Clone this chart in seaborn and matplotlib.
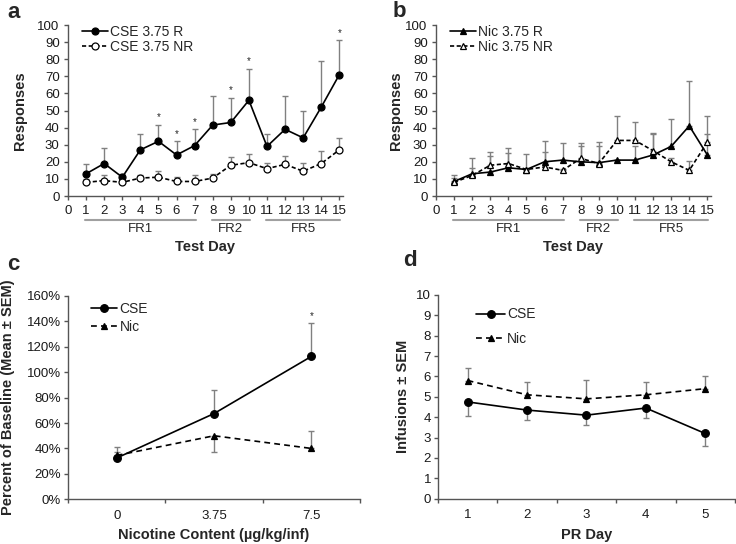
import matplotlib.pyplot as plt
import matplotlib.transforms as mtransforms
import seaborn as sns
import numpy as np

# panel a - CSE 3.75
days = list(range(1, 16))
cse_r = [13, 19, 11, 27, 32, 24, 29.5, 41.5, 43, 56, 29, 39, 34, 52, 71]
cse_r_top = [19, 28, 13, 36.5, 41.5, 32, 39, 58.5, 57.5, 74.5, 36, 58.5, 49.5, 79, 91]
cse_nr = [8, 9, 8, 10.5, 11, 8.5, 8.5, 10.5, 18, 19.5, 16, 18.5, 14.5, 19, 27]
cse_nr_top = [10, 12.5, 10, 12, 14.5, 11, 12, 13, 23, 24.5, 19.5, 23.5, 19.5, 26.5, 34]
cse_star_days = [5, 6, 7, 9, 10, 15]

# panel b - Nic 3.75
nic_r = [8.5, 13, 14, 16.5, 15.5, 20, 21, 20, 19.5, 21, 21, 24, 29, 41, 24]
nic_r_top = [12, 22, 25.5, 28, 24.5, 32, 31, 31, 29, 21, 29, 37, 45, 67.5, 36]
nic_nr = [8, 12, 18, 19, 15.5, 17, 15, 22, 19, 32.5, 32.5, 26.5, 20, 15, 31.5]
nic_nr_top = [10.5, 16.5, 23.5, 25, 16, 25.5, 16, 29, 31.5, 47, 43.5, 36, 22, 20.5, 47]

groups = ['FR1', 'FR2', 'FR5']
group_start = [1, 8, 11]
group_end = [7, 10, 15]

# panel c
doses = ['0', '3.75', '7.5']
c_cse = [32.5, 67.5, 112.5]
c_cse_low = [32.5, 67.5, 112.5]
c_cse_high = [41, 86, 138.5]
c_nic = [34.5, 50, 40]
c_nic_low = [34.5, 37.5, 40]
c_nic_high = [37.5, 50, 53.5]
c_star = [2]

# panel d
pr_days = ['1', '2', '3', '4', '5']
d_cse = [4.75, 4.35, 4.1, 4.45, 3.2]
d_cse_low = [4.08, 3.88, 3.62, 3.98, 2.6]
d_nic = [5.8, 5.1, 4.9, 5.1, 5.4]
d_nic_high = [6.4, 5.75, 5.85, 5.75, 6.0]

sns.set_style("ticks")
plt.rcParams['font.family'] = ['Liberation Sans', 'DejaVu Sans']
plt.rcParams['axes.linewidth'] = 1.0
plt.rcParams['axes.edgecolor'] = '#555555'
plt.rcParams['xtick.color'] = '#555555'
plt.rcParams['ytick.color'] = '#555555'
plt.rcParams['xtick.labelcolor'] = '#1a1a1a'
plt.rcParams['ytick.labelcolor'] = '#1a1a1a'

ERR = '#808080'
TICK_FS = 9.5
LEG_FS = 10
LAB_FS = 10.5

fig = plt.figure(figsize=(7.36, 5.44), dpi=100)
ax_a = fig.add_axes([0.0924, 0.6397, 0.3736, 0.3143])
ax_b = fig.add_axes([0.5924, 0.6397, 0.3736, 0.3143])
ax_c = fig.add_axes([0.0924, 0.0822, 0.397, 0.3737])
ax_d = fig.add_axes([0.595, 0.0833, 0.4035, 0.3745])


def up_err(mean, top):
    mean = np.array(mean)
    return [np.zeros(len(mean)), np.array(top) - mean]


def series(ax, x, y, label, marker, filled, ls, ms=5):
    fc = 'black' if filled else 'white'
    sns.lineplot(x=x, y=y, ax=ax, color='black', marker=marker, markersize=ms,
                 markerfacecolor=fc, markeredgecolor='black', markeredgewidth=0.9,
                 linestyle=ls, linewidth=1.2, label=label, zorder=3)


def labels(ax, ylab, xlab, yx, xy):
    ax.set_ylabel(ylab, fontsize=LAB_FS, fontweight='bold', va='center')
    ax.set_xlabel(xlab, fontsize=LAB_FS, fontweight='bold', va='center')
    ax.yaxis.set_label_coords(yx, 0.5)
    ax.xaxis.set_label_coords(0.5, xy)


def day_panel(ax, r, r_top, nr, nr_top, lab_r, lab_nr, marker, stars, yx):
    ax.errorbar(days, r, yerr=up_err(r, r_top), fmt='none', ecolor=ERR,
                elinewidth=1.0, capsize=2.5, capthick=1.0, zorder=1)
    ax.errorbar(days, nr, yerr=up_err(nr, nr_top), fmt='none', ecolor=ERR,
                elinewidth=1.0, capsize=2.5, capthick=1.0, zorder=1)
    series(ax, days, r, lab_r, marker, True, '-')
    series(ax, days, nr, lab_nr, marker, False, (0, (2.5, 1.5)))
    for d in stars:
        ax.text(d, r_top[d - 1] + 1.5, '*', ha='center', va='bottom', fontsize=7)
    ax.set_xlim(0, 15.2)
    ax.set_ylim(0, 100)
    ax.set_xticks(range(0, 16))
    ax.set_yticks(range(0, 101, 10))
    ax.tick_params(labelsize=TICK_FS, length=3, width=1)
    ax.tick_params(axis='y', pad=3)
    ax.tick_params(axis='x', pad=3.5)
    sns.despine(ax=ax)
    labels(ax, 'Responses', 'Test Day', yx, -0.30)
    trans = mtransforms.blended_transform_factory(ax.transData, ax.transAxes)
    for g, s, e in zip(groups, group_start, group_end):
        ax.plot([s - 0.05, e + 0.05], [-0.14, -0.14], color='#a0a0a0', lw=1.5,
                transform=trans, clip_on=False)
        ax.text((s + e) / 2, -0.195, g, transform=trans, ha='center', va='center',
                fontsize=TICK_FS)
    ax.legend(loc='upper left', bbox_to_anchor=(0.02, 1.05), frameon=False,
              fontsize=LEG_FS, handlelength=1.9, handletextpad=0.1,
              labelspacing=0.1, borderpad=0.1)


day_panel(ax_a, cse_r, cse_r_top, cse_nr, cse_nr_top,
          'CSE 3.75 R', 'CSE 3.75 NR', 'o', cse_star_days, -0.175)
day_panel(ax_b, nic_r, nic_r_top, nic_nr, nic_nr_top,
          'Nic 3.75 R', 'Nic 3.75 NR', '^', [], -0.145)

# panel c
xc = np.arange(len(doses)) + 0.5
ax = ax_c
ax.errorbar(xc, c_cse, yerr=[np.array(c_cse) - c_cse_low, np.array(c_cse_high) - c_cse],
            fmt='none', ecolor=ERR, elinewidth=1.0, capsize=2.5, capthick=1.0, zorder=1)
ax.errorbar(xc, c_nic, yerr=[np.array(c_nic) - c_nic_low, np.array(c_nic_high) - c_nic],
            fmt='none', ecolor=ERR, elinewidth=1.0, capsize=2.5, capthick=1.0, zorder=1)
series(ax, xc, c_cse, 'CSE', 'o', True, '-', ms=5.5)
series(ax, xc, c_nic, 'Nic', '^', True, (0, (3.5, 2.5)), ms=5)
for i in c_star:
    ax.text(xc[i], c_cse_high[i] + 2, '*', ha='center', va='bottom', fontsize=7)
ax.set_xlim(0, 3)
ax.set_ylim(0, 160)
ax.set_yticks(range(0, 161, 20))
ax.set_yticklabels([f'{v}%' for v in range(0, 161, 20)])
ax.set_xticks(range(0, 4))
ax.set_xticklabels([])
ax.set_xticks(xc, minor=True)
ax.set_xticklabels(doses, minor=True)
ax.tick_params(which='major', labelsize=TICK_FS, length=3, width=1, pad=2)
ax.tick_params(which='minor', axis='x', labelsize=TICK_FS, length=0, pad=7.5)
sns.despine(ax=ax)
labels(ax, 'Percent of Baseline (Mean ± SEM)', 'Nicotine Content (µg/kg/inf)',
       -0.205, -0.176)
ax.legend(loc='upper left', bbox_to_anchor=(0.05, 1.01), frameon=False,
          fontsize=LEG_FS, handlelength=1.9, handletextpad=0.15,
          labelspacing=0.25, borderpad=0.1)

# panel d
xd = np.arange(len(pr_days)) + 0.5
ax = ax_d
ax.errorbar(xd, d_cse, yerr=[np.array(d_cse) - d_cse_low, np.zeros(len(d_cse))],
            fmt='none', ecolor=ERR, elinewidth=1.0, capsize=2.5, capthick=1.0, zorder=1)
ax.errorbar(xd, d_nic, yerr=[np.zeros(len(d_nic)), np.array(d_nic_high) - d_nic],
            fmt='none', ecolor=ERR, elinewidth=1.0, capsize=2.5, capthick=1.0, zorder=1)
series(ax, xd, d_cse, 'CSE', 'o', True, '-', ms=5.5)
series(ax, xd, d_nic, 'Nic', '^', True, (0, (3.5, 2.5)), ms=5)
ax.set_xlim(0, 5)
ax.set_ylim(0, 10)
ax.set_yticks(range(0, 11))
ax.set_xticks(range(0, 6))
ax.set_xticklabels([])
ax.set_xticks(xd, minor=True)
ax.set_xticklabels(pr_days, minor=True)
ax.tick_params(which='major', labelsize=TICK_FS, length=3, width=1, pad=2)
ax.tick_params(which='minor', axis='x', labelsize=TICK_FS, length=0, pad=7.5)
sns.despine(ax=ax)
labels(ax, 'Infusions ± SEM', 'PR Day', -0.118, -0.178)
ax.legend(loc='upper left', bbox_to_anchor=(0.1, 0.98), frameon=False,
          fontsize=LEG_FS, handlelength=2.1, handletextpad=0.15,
          labelspacing=0.75, borderpad=0.1)

for letter, x, y in [('a', 7, 18), ('b', 393, 17), ('c', 7, 270), ('d', 403, 266)]:
    fig.text(x / 736, 1 - y / 544, letter, fontsize=16, fontweight='bold',
             ha='left', va='baseline')

fig.savefig('out.png', dpi=100)
